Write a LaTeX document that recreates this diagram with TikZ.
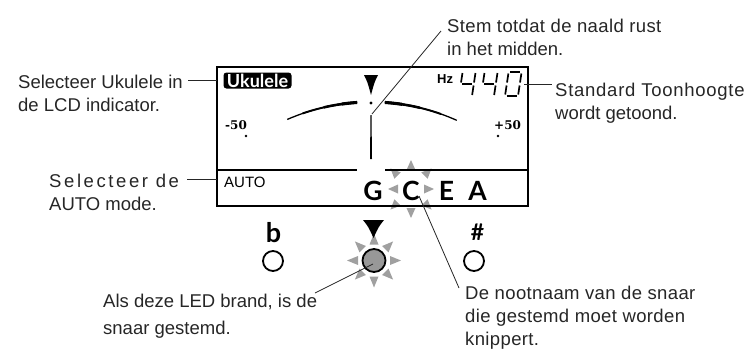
\documentclass[tikz,border=0pt]{standalone}
\usepackage{fontspec}
\setmainfont{Liberation Sans}
\newfontfamily\latof{Lato}
\newfontfamily\djserif{DejaVu Serif}
\definecolor{raygray}{HTML}{A0A0A0}
\definecolor{ledgray}{HTML}{989898}
\definecolor{txt}{HTML}{262626}
\begin{document}
\begin{tikzpicture}[x=1pt,y=-1pt,
  lbl/.style={inner sep=0pt, anchor=base west, text=txt, font=\fontsize{18.5}{22}\selectfont},
  lead/.style={draw=txt, line width=0.8pt},
  ray/.style={fill=raygray, draw=none},
  lcdline/.style={line width=1.7pt, draw=black},
  seg/.style={line width=1.7pt, draw=black},
  ledc/.style={circle, draw=black, line width=1.8pt, minimum size=20pt, inner sep=0pt},
  note/.style={inner sep=0pt, anchor=base, font=\latof\bfseries\fontsize{26.5}{26}\selectfont},
  accid/.style={inner sep=0pt, anchor=base, font=\latof\bfseries\fontsize{27}{27}\selectfont},
]
\useasboundingbox (0,0) rectangle (753,349);

% ---- blinking star around C
\begin{scope}[shift={(411,189)}]
  \foreach \a in {45,90,135,225,270,315}
    \fill[ray, rotate=\a] (19,-4.5) -- (29,0) -- (19,4.5) -- cycle;
  \foreach \a in {0,180}
    \fill[ray, rotate=\a] (13,-4.5) -- (23,0) -- (13,4.5) -- cycle;
\end{scope}

% ---- LCD frame
\node[draw=black, line width=2pt, minimum width=311pt, minimum height=139pt, inner sep=0pt] (lcd) at (372.5,136.5) {};
\draw[lcdline] (217,170) -- (357,170);
\draw[lcdline] (385,170) -- (528,170);

% ---- Ukulele badge
\node[fill=black, rounded corners=3pt, minimum width=68pt, minimum height=16pt, inner sep=0pt,
      text=white, font=\latof\bfseries\fontsize{18}{18}\selectfont] (uku) at (257.5,80.5) {Ukulele};

% ---- Hz 440
\node[inner sep=0pt, anchor=base west, font=\bfseries\fontsize{13}{13}\selectfont] (hz) at (437,83) {Hz};
\begin{scope}[shift={(459,96)}, xslant=0.15]
  \draw[seg] (0,-13.5) -- (0,-23);
  \draw[seg] (1.5,-12) -- (11.5,-12);
  \draw[seg] (13,-13.5) -- (13,-23);
  \draw[seg] (13,-10.5) -- (13,-1);
\end{scope}
\begin{scope}[shift={(481,96)}, xslant=0.15]
  \draw[seg] (0,-13.5) -- (0,-23);
  \draw[seg] (1.5,-12) -- (11.5,-12);
  \draw[seg] (13,-13.5) -- (13,-23);
  \draw[seg] (13,-10.5) -- (13,-1);
\end{scope}
\begin{scope}[shift={(505,96)}, xslant=0.15]
  \draw[seg] (1.5,-24) -- (11.5,-24);
  \draw[seg] (0,-13.5) -- (0,-22.5);
  \draw[seg] (0,-10.5) -- (0,-1.5);
  \draw[seg] (13,-13.5) -- (13,-22.5);
  \draw[seg] (13,-10.5) -- (13,-1.5);
  \draw[seg] (1.5,0) -- (11.5,0);
\end{scope}

% ---- meter arc (tapered)
\coordinate (ac) at (371,312);
\foreach \w/\s in {1.3/113.5, 1.9/109, 2.5/103, 3.1/98}
  \draw[line width=\w pt] ([shift={(\s:210pt)}]ac) arc[start angle=\s, end angle=93.8, radius=210pt];
\foreach \w/\s in {1.3/65.9, 1.9/70.5, 2.5/76.5, 3.1/81.5}
  \draw[line width=\w pt] ([shift={(\s:210pt)}]ac) arc[start angle=\s, end angle=86.2, radius=210pt];

% ---- pointer, dot, needle
\fill (364,75) -- (378,75) .. controls (374.5,82) .. (371,95) .. controls (367.5,82) .. (364,75) -- cycle;
\fill (371,103) circle[radius=1.6pt];
\fill (370.5,115) -- (371.5,115) -- (372,159) -- (370,159) -- cycle;

% ---- scale
\node[inner sep=0pt, anchor=base west, font=\djserif\bfseries\fontsize{12}{12}\selectfont] (m50) at (225,129) {-50};
\fill (246,136) circle[radius=1.3pt];
\node[inner sep=0pt, anchor=base west, font=\djserif\bfseries\fontsize{12}{12}\selectfont] (p50) at (494,129) {+50};
\fill (498,136) circle[radius=1.3pt];

% ---- AUTO and notes
\node[inner sep=0pt, anchor=base west, font=\fontsize{15}{15}\selectfont] (auto) at (224,187) {AUTO};
\node[note] (nG) at (373,200) {G};
\node[note] (nC) at (411,200) {C};
\node[note] (nE) at (446.5,200) {E};
\node[note] (nA) at (477.5,200) {A};

% ---- LEDs
\node[accid] (flat) at (273.5,242) {b};
\node[ledc] (ledb) at (273,261) {};
\node[accid, font=\latof\bfseries\fontsize{23}{23}\selectfont] (sharp) at (477.5,240) {\#};
\node[ledc] (leds) at (474,261) {};
\begin{scope}[shift={(374,260.5)}]
  \foreach \a in {0,45,...,315}
    \fill[ray, rotate=\a] (16,-4.5) -- (27,0) -- (16,4.5) -- cycle;
\end{scope}
\node[ledc, fill=ledgray, minimum size=23pt] (ledm) at (374,260.5) {};
\fill (363,220) -- (384,220) .. controls (378.5,227) .. (373.5,238) .. controls (368.5,227) .. (363,220) -- cycle;

% ---- labels
\node[lbl] (t1a) at (18,88) {Selecteer Ukulele in};
\node[lbl] (t1b) at (18,111) {de LCD indicator.};
\coordinate (l1a) at (188,80);
\coordinate (l1b) at (217,80);
\draw[lead] (l1a) -- (l1b);

\node[lbl, font=\fontsize{18.5}{22}\selectfont\addfontfeature{LetterSpace=14}] (t2a) at (49,187) {Selecteer de};
\node[lbl] (t2b) at (49,210) {AUTO mode.};
\coordinate (l2a) at (187,179);
\coordinate (l2b) at (217,179);
\draw[lead] (l2a) -- (l2b);

\node[lbl, font=\fontsize{18.5}{22}\selectfont\addfontfeature{LetterSpace=4}] (t3a) at (555,96) {Standard Toonhoogte};
\node[lbl] (t3b) at (555,119) {wordt getoond.};
\coordinate (l3a) at (524,84);
\coordinate (l3b) at (552,84);
\draw[lead] (l3a) -- (l3b);

\node[lbl, font=\fontsize{18.5}{22}\selectfont\addfontfeature{LetterSpace=2}] (t4a) at (447,32) {Stem totdat de naald rust};
\node[lbl] (t4b) at (447,55) {in het midden.};
\coordinate (l4a) at (441,31);
\coordinate (l4b) at (372,114);
\draw[lead] (l4a) -- (l4b);

\node[lbl] (t5a) at (103,307) {Als deze LED brand, is de};
\node[lbl] (t5b) at (103,334) {snaar gestemd.};
\coordinate (l5a) at (315,293);
\coordinate (l5b) at (373,264);
\draw[lead] (l5a) -- (l5b);

\node[lbl, font=\fontsize{18.5}{22}\selectfont\addfontfeature{LetterSpace=2}] (t6a) at (465,299) {De nootnaam van de snaar};
\node[lbl, font=\fontsize{18.5}{22}\selectfont\addfontfeature{LetterSpace=2}] (t6b) at (465,322) {die gestemd moet worden};
\node[lbl, font=\fontsize{18.5}{22}\selectfont\addfontfeature{LetterSpace=2}] (t6c) at (465,345) {knippert.};
\coordinate (l6a) at (419,196);
\coordinate (l6b) at (459,288);
\draw[lead] (l6a) -- (l6b);
\end{tikzpicture}
\end{document}
